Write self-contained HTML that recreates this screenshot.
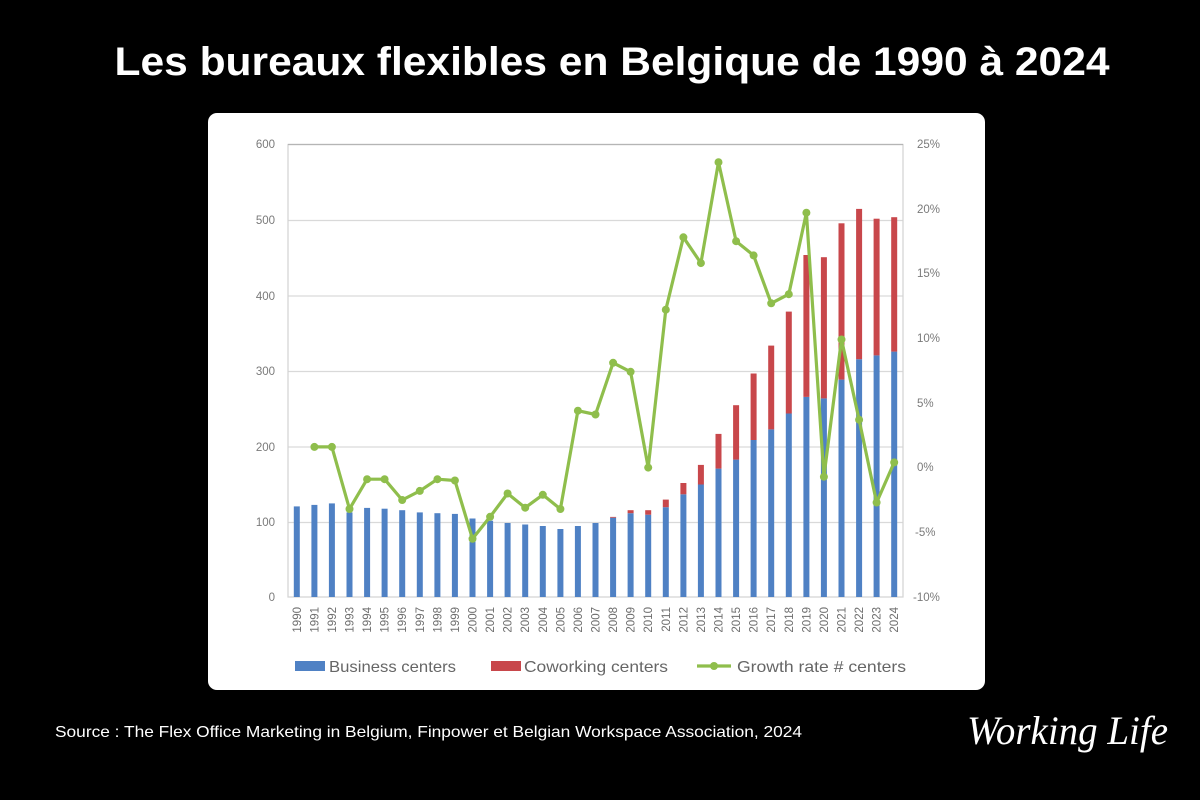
<!DOCTYPE html>
<html><head><meta charset="utf-8"><style>
html,body{margin:0;padding:0;background:#000;}
svg{display:block;}
</style></head><body>
<svg width="1200" height="800" viewBox="0 0 1200 800" xmlns="http://www.w3.org/2000/svg" font-family="'Liberation Sans', sans-serif">
<rect x="0" y="0" width="1200" height="800" fill="#000"/>
<text x="612" y="75" fill="#fff" font-size="40" font-weight="bold" text-anchor="middle" textLength="995" lengthAdjust="spacingAndGlyphs">Les bureaux flexibles en Belgique de 1990 à 2024</text>
<rect x="208" y="113" width="777" height="577" rx="9" fill="#fff"/>
<!-- gridlines -->
<g stroke="#d9d9d9" stroke-width="1.2">
<line x1="288" y1="220.5" x2="903" y2="220.5"/>
<line x1="288" y1="296" x2="903" y2="296"/>
<line x1="288" y1="371.5" x2="903" y2="371.5"/>
<line x1="288" y1="447" x2="903" y2="447"/>
<line x1="288" y1="522.5" x2="903" y2="522.5"/>
</g>
<rect x="288" y="144.5" width="615" height="452.5" fill="none" stroke="#d3d3d3" stroke-width="1.2"/>
<line x1="288" y1="144.5" x2="903" y2="144.5" stroke="#b5b5b5" stroke-width="1.2"/>
<!-- left labels -->
<g fill="#7a7a7a" font-size="11.5" text-anchor="end">
<text x="275" y="148">600</text>
<text x="275" y="224">500</text>
<text x="275" y="300">400</text>
<text x="275" y="375">300</text>
<text x="275" y="451">200</text>
<text x="275" y="526">100</text>
<text x="275" y="601">0</text>
</g>
<g fill="#7a7a7a" font-size="11.5" text-anchor="start">
<text x="917" y="148">25%</text>
<text x="917" y="213">20%</text>
<text x="917" y="277">15%</text>
<text x="917" y="342">10%</text>
<text x="917" y="407">5%</text>
<text x="917" y="471">0%</text>
<text x="915" y="536">-5%</text>
<text x="913" y="601">-10%</text>
</g>
<!-- blue bars -->
<g fill="#4f81c4">
<rect x="293.8" y="506.4" width="6" height="90.6"/>
<rect x="311.4" y="504.9" width="6" height="92.1"/>
<rect x="328.9" y="503.4" width="6" height="93.6"/>
<rect x="346.5" y="512.4" width="6" height="84.6"/>
<rect x="364.1" y="507.9" width="6" height="89.1"/>
<rect x="381.6" y="508.7" width="6" height="88.3"/>
<rect x="399.2" y="510.2" width="6" height="86.8"/>
<rect x="416.8" y="512.4" width="6" height="84.6"/>
<rect x="434.4" y="513.2" width="6" height="83.8"/>
<rect x="451.9" y="513.9" width="6" height="83.1"/>
<rect x="469.5" y="518.5" width="6" height="78.5"/>
<rect x="487.1" y="520.7" width="6" height="76.3"/>
<rect x="504.6" y="523.0" width="6" height="74.0"/>
<rect x="522.2" y="524.5" width="6" height="72.5"/>
<rect x="539.8" y="526.0" width="6" height="71.0"/>
<rect x="557.4" y="529.0" width="6" height="68.0"/>
<rect x="574.9" y="526.0" width="6" height="71.0"/>
<rect x="592.5" y="523.0" width="6" height="74.0"/>
<rect x="610.1" y="517.7" width="6" height="79.3"/>
<rect x="627.6" y="513.2" width="6" height="83.8"/>
<rect x="645.2" y="514.7" width="6" height="82.3"/>
<rect x="662.8" y="507.2" width="6" height="89.8"/>
<rect x="680.4" y="494.3" width="6" height="102.7"/>
<rect x="697.9" y="484.5" width="6" height="112.5"/>
<rect x="715.5" y="468.6" width="6" height="128.4"/>
<rect x="733.1" y="459.6" width="6" height="137.4"/>
<rect x="750.6" y="440.0" width="6" height="157.0"/>
<rect x="768.2" y="429.4" width="6" height="167.6"/>
<rect x="785.8" y="413.5" width="6" height="183.5"/>
<rect x="803.4" y="396.9" width="6" height="200.1"/>
<rect x="820.9" y="398.4" width="6" height="198.6"/>
<rect x="838.5" y="379.6" width="6" height="217.4"/>
<rect x="856.1" y="359.2" width="6" height="237.8"/>
<rect x="873.6" y="355.4" width="6" height="241.6"/>
<rect x="891.2" y="351.6" width="6" height="245.4"/>
</g>
<!-- red bars -->
<g fill="#c8474b">
<rect x="610.1" y="516.9" width="6" height="0.8"/>
<rect x="627.6" y="510.2" width="6" height="3.0"/>
<rect x="645.2" y="510.2" width="6" height="4.5"/>
<rect x="662.8" y="499.6" width="6" height="7.6"/>
<rect x="680.4" y="483.0" width="6" height="11.3"/>
<rect x="697.9" y="464.9" width="6" height="19.6"/>
<rect x="715.5" y="433.9" width="6" height="34.7"/>
<rect x="733.1" y="405.2" width="6" height="54.4"/>
<rect x="750.6" y="373.5" width="6" height="66.5"/>
<rect x="768.2" y="345.6" width="6" height="83.8"/>
<rect x="785.8" y="311.6" width="6" height="101.9"/>
<rect x="803.4" y="255.0" width="6" height="141.9"/>
<rect x="820.9" y="257.2" width="6" height="141.2"/>
<rect x="838.5" y="223.3" width="6" height="156.3"/>
<rect x="856.1" y="208.9" width="6" height="150.3"/>
<rect x="873.6" y="218.7" width="6" height="136.7"/>
<rect x="891.2" y="217.2" width="6" height="134.4"/>
</g>
<!-- growth line -->
<polyline fill="none" stroke="#8fbe4c" stroke-width="3.2" stroke-linejoin="round" points="314.4,446.9 331.9,446.9 349.5,509.0 367.1,479.2 384.6,479.2 402.2,500.0 419.8,490.9 437.4,479.2 454.9,480.5 472.5,538.8 490.1,516.8 507.6,493.5 525.2,507.7 542.8,494.8 560.4,509.0 577.9,410.7 595.5,414.5 613.1,362.8 630.6,371.8 648.2,467.6 665.8,309.7 683.4,237.3 700.9,263.1 718.5,162.2 736.1,241.2 753.6,255.4 771.2,303.3 788.8,294.2 806.4,212.7 823.9,476.7 841.5,339.5 859.1,419.7 876.6,502.5 894.2,462.4"/>
<g fill="#8fbe4c">
<circle cx="314.4" cy="446.9" r="4"/><circle cx="331.9" cy="446.9" r="4"/><circle cx="349.5" cy="509.0" r="4"/><circle cx="367.1" cy="479.2" r="4"/><circle cx="384.6" cy="479.2" r="4"/><circle cx="402.2" cy="500.0" r="4"/><circle cx="419.8" cy="490.9" r="4"/><circle cx="437.4" cy="479.2" r="4"/><circle cx="454.9" cy="480.5" r="4"/><circle cx="472.5" cy="538.8" r="4"/><circle cx="490.1" cy="516.8" r="4"/><circle cx="507.6" cy="493.5" r="4"/><circle cx="525.2" cy="507.7" r="4"/><circle cx="542.8" cy="494.8" r="4"/><circle cx="560.4" cy="509.0" r="4"/><circle cx="577.9" cy="410.7" r="4"/><circle cx="595.5" cy="414.5" r="4"/><circle cx="613.1" cy="362.8" r="4"/><circle cx="630.6" cy="371.8" r="4"/><circle cx="648.2" cy="467.6" r="4"/><circle cx="665.8" cy="309.7" r="4"/><circle cx="683.4" cy="237.3" r="4"/><circle cx="700.9" cy="263.1" r="4"/><circle cx="718.5" cy="162.2" r="4"/><circle cx="736.1" cy="241.2" r="4"/><circle cx="753.6" cy="255.4" r="4"/><circle cx="771.2" cy="303.3" r="4"/><circle cx="788.8" cy="294.2" r="4"/><circle cx="806.4" cy="212.7" r="4"/><circle cx="823.9" cy="476.7" r="4"/><circle cx="841.5" cy="339.5" r="4"/><circle cx="859.1" cy="419.7" r="4"/><circle cx="876.6" cy="502.5" r="4"/><circle cx="894.2" cy="462.4" r="4"/>
</g>
<!-- x labels -->
<g fill="#6e6e6e" font-size="11.5" text-anchor="end">
<text transform="translate(301,607) rotate(-90)">1990</text>
<text transform="translate(318.4,607) rotate(-90)">1991</text>
<text transform="translate(335.9,607) rotate(-90)">1992</text>
<text transform="translate(353.5,607) rotate(-90)">1993</text>
<text transform="translate(371.1,607) rotate(-90)">1994</text>
<text transform="translate(388.6,607) rotate(-90)">1995</text>
<text transform="translate(406.2,607) rotate(-90)">1996</text>
<text transform="translate(423.8,607) rotate(-90)">1997</text>
<text transform="translate(441.4,607) rotate(-90)">1998</text>
<text transform="translate(458.9,607) rotate(-90)">1999</text>
<text transform="translate(476.5,607) rotate(-90)">2000</text>
<text transform="translate(494.1,607) rotate(-90)">2001</text>
<text transform="translate(511.6,607) rotate(-90)">2002</text>
<text transform="translate(529.2,607) rotate(-90)">2003</text>
<text transform="translate(546.8,607) rotate(-90)">2004</text>
<text transform="translate(564.4,607) rotate(-90)">2005</text>
<text transform="translate(581.9,607) rotate(-90)">2006</text>
<text transform="translate(599.5,607) rotate(-90)">2007</text>
<text transform="translate(617.1,607) rotate(-90)">2008</text>
<text transform="translate(634.6,607) rotate(-90)">2009</text>
<text transform="translate(652.2,607) rotate(-90)">2010</text>
<text transform="translate(669.8,607) rotate(-90)">2011</text>
<text transform="translate(687.4,607) rotate(-90)">2012</text>
<text transform="translate(704.9,607) rotate(-90)">2013</text>
<text transform="translate(722.5,607) rotate(-90)">2014</text>
<text transform="translate(740.1,607) rotate(-90)">2015</text>
<text transform="translate(757.6,607) rotate(-90)">2016</text>
<text transform="translate(775.2,607) rotate(-90)">2017</text>
<text transform="translate(792.8,607) rotate(-90)">2018</text>
<text transform="translate(810.4,607) rotate(-90)">2019</text>
<text transform="translate(827.9,607) rotate(-90)">2020</text>
<text transform="translate(845.5,607) rotate(-90)">2021</text>
<text transform="translate(863.1,607) rotate(-90)">2022</text>
<text transform="translate(880.6,607) rotate(-90)">2023</text>
<text transform="translate(898.2,607) rotate(-90)">2024</text>
</g>
<!-- legend -->
<rect x="295" y="661" width="30" height="10" fill="#4f81c4"/>
<text x="329" y="672" fill="#666" font-size="16" textLength="127" lengthAdjust="spacingAndGlyphs">Business centers</text>
<rect x="491" y="661" width="30" height="10" fill="#c8474b"/>
<text x="524" y="672" fill="#666" font-size="16" textLength="144" lengthAdjust="spacingAndGlyphs">Coworking centers</text>
<line x1="697" y1="666" x2="731" y2="666" stroke="#8fbe4c" stroke-width="3.2"/>
<circle cx="714" cy="666" r="4" fill="#8fbe4c"/>
<text x="737" y="672" fill="#666" font-size="16" textLength="169" lengthAdjust="spacingAndGlyphs">Growth rate # centers</text>
<!-- source -->
<text x="55" y="737" fill="#fff" font-size="16" textLength="747" lengthAdjust="spacingAndGlyphs">Source : The Flex Office Marketing in Belgium, Finpower et Belgian Workspace Association, 2024</text>
<!-- logo -->
<text x="967" y="744" fill="#fff" font-size="40" font-style="italic" font-family="'Liberation Serif', serif" textLength="201" lengthAdjust="spacingAndGlyphs">Working Life</text>
</svg>
</body></html>
